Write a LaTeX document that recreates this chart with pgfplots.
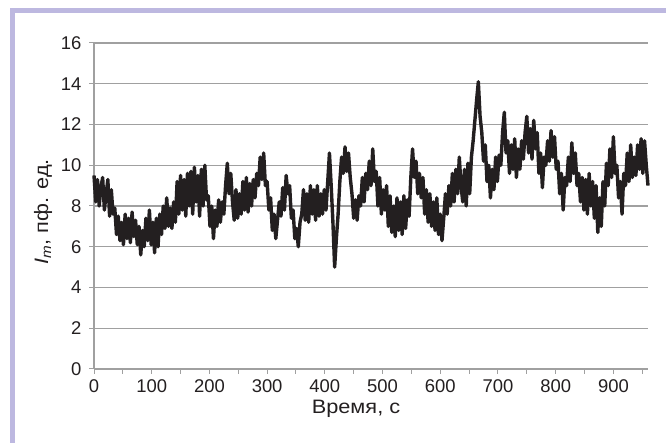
\documentclass[border=0pt]{standalone}
\usepackage{fontspec}
\setmainfont{Liberation Sans}
\newfontfamily\labfont{Liberation Sans}[FakeStretch=1.12]
\usepackage{pgfplots}
\pgfplotsset{compat=1.18}
\definecolor{lav}{RGB}{189,184,224}
\definecolor{gridg}{RGB}{160,160,160}
\definecolor{ink}{RGB}{35,31,32}
\pgfplotstableread{
t v
0 9.5
3 8.2
6 9.3
9 8.0
12 8.9
15 9.4
18 7.8
21 8.6
24 9.3
27 7.5
30 8.8
33 7.6
36 7.9
39 6.6
42 7.5
45 6.3
48 7.2
51 6.1
54 7.6
57 6.4
60 7.4
63 6.2
66 7.7
69 6.5
72 7.3
75 6.1
78 7.0
81 5.6
84 6.8
87 6.0
90 7.4
93 6.3
96 7.8
99 6.1
102 7.2
105 5.7
108 7.4
111 6.0
114 7.6
117 6.6
120 8.0
123 6.9
126 8.4
129 7.0
132 7.9
135 6.9
138 8.2
141 7.2
144 9.2
147 7.6
150 9.5
153 7.8
156 9.3
159 7.5
162 9.6
165 8.0
168 9.7
171 7.6
174 9.9
177 8.2
180 9.5
183 7.5
186 9.8
189 8.0
192 10.0
195 8.3
198 8.5
201 7.0
204 8.0
207 6.4
210 7.8
213 7.0
216 8.3
219 7.2
222 8.2
225 7.6
228 9.0
231 10.1
234 8.6
237 9.6
240 8.2
243 7.3
246 8.8
249 7.4
252 8.6
255 7.6
258 9.2
261 7.8
264 9.4
267 7.7
270 9.1
273 8.0
276 9.3
279 8.4
282 9.6
285 9.0
288 10.4
291 9.3
294 10.6
297 9.0
300 9.2
303 7.8
306 8.4
309 6.8
312 7.6
315 6.4
318 7.3
321 8.2
324 7.5
327 8.9
330 7.8
333 9.5
336 8.6
339 9.0
342 7.4
345 7.8
348 6.4
351 6.9
354 6.0
357 7.2
360 7.6
363 8.8
366 7.3
369 8.6
372 7.2
375 9.0
378 7.6
381 8.8
384 7.3
387 9.0
390 7.5
393 8.6
396 7.6
399 8.8
402 7.8
405 9.2
408 10.6
411 9.0
414 7.2
417 5.0
420 6.4
423 7.6
426 9.2
429 10.4
432 9.6
435 10.9
438 9.7
441 10.6
444 9.4
447 8.6
450 7.4
453 8.3
456 7.3
459 8.5
462 8.0
465 9.4
468 8.2
471 9.6
474 8.8
477 10.2
480 9.0
483 10.8
486 9.2
489 9.7
492 8.0
495 9.4
498 7.6
501 8.8
504 7.8
507 9.0
510 7.0
513 8.5
516 6.7
519 8.0
522 6.5
525 8.4
528 6.8
531 8.2
534 6.6
537 8.5
540 6.9
543 8.3
546 7.5
549 9.4
552 10.8
555 9.4
558 10.2
561 8.6
564 9.6
567 8.4
570 9.4
573 7.6
576 8.8
579 7.2
582 8.6
585 7.0
588 8.2
591 6.8
594 8.4
597 6.6
600 7.6
603 6.3
606 7.4
609 8.6
612 7.6
615 9.0
618 8.0
621 9.6
624 8.2
627 9.8
630 8.6
633 10.4
636 9.0
639 8.2
642 9.8
645 8.0
648 10.1
651 8.6
654 10.4
657 11.2
660 12.2
663 13.2
666 14.1
669 12.4
672 11.6
675 10.2
678 11.0
681 9.2
684 10.0
687 8.4
690 9.8
693 8.8
696 10.4
699 9.2
702 10.5
705 10.0
708 11.6
711 12.6
714 10.6
717 11.2
720 9.6
723 11.0
726 9.8
729 11.3
732 9.4
735 10.8
738 9.8
741 11.2
744 10.3
747 11.6
750 12.4
753 10.6
756 11.8
759 10.3
762 12.2
765 10.8
768 11.6
771 9.6
774 10.6
777 8.9
780 10.4
783 10.0
786 11.2
789 10.2
792 11.7
795 10.4
798 11.4
801 9.8
804 10.2
807 8.6
810 9.6
813 7.8
816 9.4
819 9.0
822 10.4
825 9.2
828 11.1
831 9.6
834 10.6
837 9.0
840 9.6
843 8.2
846 9.4
849 7.8
852 9.3
855 7.6
858 9.6
861 8.0
864 9.2
867 7.4
870 9.0
873 6.7
876 8.4
879 7.0
882 9.2
885 8.0
888 10.1
891 9.0
894 10.8
897 9.4
900 11.4
903 9.6
906 10.0
909 8.4
912 9.2
915 7.6
918 9.6
921 9.0
924 10.6
927 9.2
930 11.0
933 9.4
936 10.4
939 9.5
942 11.0
945 9.8
948 11.3
951 9.6
954 11.2
957 10.0
960 9.0
}\signal
\begin{document}
\begin{tikzpicture}[x=1bp,y=1bp]
\path[use as bounding box, fill=white] (0,0) rectangle (666,443);
\fill[lav] (10,0) rectangle (15,435);
\fill[lav] (10,430) rectangle (666,435);
\begin{axis}[
  at={(94bp,74bp)}, anchor=south west,
  scale only axis, width=554bp, height=326bp,
  xmin=0, xmax=960, ymin=0, ymax=16,
  axis lines*=left,
  axis line style={gridg, line width=1.2bp},
  xtick={0,100,...,900}, minor xtick={50,150,...,950},
  ytick={0,2,...,16},
  tick align=outside,
  major tick length=5bp, minor tick length=5bp,
  tick style={gridg, line width=1bp},
  ymajorgrids, grid style={gridg, line width=1.2bp},
  /pgf/number format/assume math mode=true,
  tick label style={font=\fontsize{18.5}{21}\selectfont, text=ink},
  xticklabel style={yshift=-2bp},
  yticklabel style={xshift=-4bp},
  label style={font=\labfont\fontsize{19.5}{22}\selectfont, text=ink},
  xlabel={Время, с},
  ylabel={\textit{I}\textsubscript{\textit{m}}, пф. ед.},
  xlabel style={yshift=-1bp, xshift=-15bp},
  ylabel style={yshift=2bp, xshift=-6bp},
  clip=false,
]
\addplot[ink, line width=3.4bp, line join=round] table[x=t, y=v] {\signal};
\end{axis}
\end{tikzpicture}
\end{document}
